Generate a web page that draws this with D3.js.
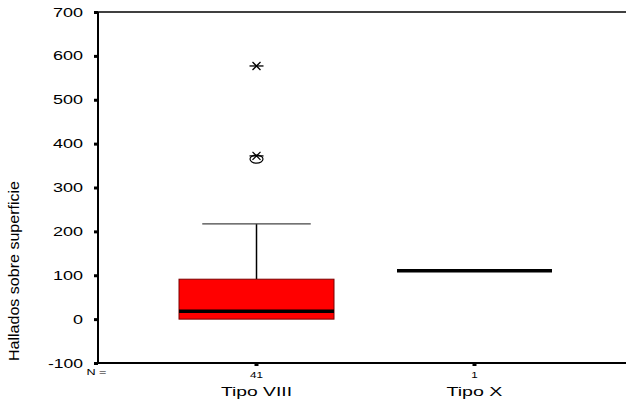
<!DOCTYPE html>
<html><head><meta charset="utf-8">
<script src="https://cdn.jsdelivr.net/npm/d3@7"></script>
<style>
html,body{margin:0;padding:0;background:#fff;}
text{font-family:"Liberation Sans",Arial,sans-serif;fill:#000;}
</style></head>
<body><svg id="c" width="626" height="407"></svg>
<script>
const categories = ["Tipo VIII", "Tipo X"];
const counts = [41, 1];
const whiskerLow = [0, 110];
const q1 = [0, 110];
const medians = [18, 110];
const q3 = [91, 110];
const whiskerHigh = [217, 110];
const outlierCats = ["Tipo VIII"];
const outlierValues = [367];
const extremeCats = ["Tipo VIII", "Tipo VIII"];
const extremeValues = [577, 372];
const yTicks = [-100, 0, 100, 200, 300, 400, 500, 600, 700];
const yTitle = "Hallados sobre superficie";

(function () {
const svg = d3.select("#c");
const mLeft = 98, mRight = 633, mTop = 12, mBottom = 363;
const y = d3.scaleLinear().domain([-100, 700]).range([mBottom, mTop]);
const x = d3.scaleBand().domain(categories).range([mLeft, mRight]).paddingInner(0.289).paddingOuter(0.3716);
const bw = x.bandwidth();
const cx = c => x(c) + bw / 2;
const fmt = d => String(d);
const labelLen = s => s.replace(/-/g, "").length * 10 + (s.includes("-") ? 5 : 0);

// top frame line
svg.append("line").attr("x1", mLeft).attr("x2", 626).attr("y1", mTop).attr("y2", mTop)
  .attr("stroke", "#000").attr("stroke-width", 1.5);

// y axis
const ya = svg.append("g").attr("transform", `translate(${mLeft},0)`)
  .call(d3.axisLeft(y).tickValues(yTicks).tickSize(4).tickPadding(11).tickFormat(fmt));
ya.select(".domain").remove();
ya.selectAll(".tick line").attr("stroke", "#000").attr("stroke-width", 3);
ya.selectAll(".tick text").style("font-size", "12.5px")
  .attr("textLength", d => labelLen(fmt(d))).attr("lengthAdjust", "spacingAndGlyphs");
svg.append("line").attr("x1", mLeft).attr("x2", mLeft).attr("y1", mTop).attr("y2", mBottom + 1)
  .attr("stroke", "#000").attr("stroke-width", 2);

// x axis
const xa = svg.append("g").attr("transform", `translate(0,${mBottom})`)
  .call(d3.axisBottom(x).tickSize(3).tickFormat(""));
xa.select(".domain").remove();
xa.selectAll(".tick line").attr("stroke", "#000").attr("stroke-width", 4);
svg.append("line").attr("x1", mLeft - 1).attr("x2", 626).attr("y1", mBottom).attr("y2", mBottom)
  .attr("stroke", "#000").attr("stroke-width", 2);

// N labels
svg.append("text").attr("x", 96.5).attr("y", 375).attr("text-anchor", "middle")
  .style("font-size", "8.5px").attr("textLength", 20).attr("lengthAdjust", "spacingAndGlyphs").text("N =");
const catLen = [71, 56];
categories.forEach((c, i) => {
  svg.append("text").attr("x", cx(c)).attr("y", 378).attr("text-anchor", "middle")
    .style("font-size", "8.5px").attr("textLength", String(counts[i]).length * 6.5)
    .attr("lengthAdjust", "spacingAndGlyphs").text(counts[i]);
  svg.append("text").attr("x", cx(c)).attr("y", 396).attr("text-anchor", "middle")
    .style("font-size", "12.5px").attr("textLength", catLen[i])
    .attr("lengthAdjust", "spacingAndGlyphs").text(c);
});

// y title
svg.append("text").attr("transform", "translate(19,271) rotate(-90)")
  .attr("text-anchor", "middle").style("font-size", "15px")
  .attr("textLength", 180).attr("lengthAdjust", "spacingAndGlyphs").text(yTitle);

// boxes
categories.forEach((c, i) => {
  const g = svg.append("g");
  const c0 = cx(c);
  if (whiskerHigh[i] > q3[i]) {
    g.append("line").attr("x1", c0).attr("x2", c0).attr("y1", y(q3[i])).attr("y2", y(whiskerHigh[i]))
      .attr("stroke", "#000").attr("stroke-width", 1.5);
    g.append("line").attr("x1", c0 - bw * 0.35).attr("x2", c0 + bw * 0.35)
      .attr("y1", y(whiskerHigh[i])).attr("y2", y(whiskerHigh[i]))
      .attr("stroke", "#444").attr("stroke-width", 1.2);
  }
  if (whiskerLow[i] < q1[i]) {
    g.append("line").attr("x1", c0).attr("x2", c0).attr("y1", y(q1[i])).attr("y2", y(whiskerLow[i]))
      .attr("stroke", "#000").attr("stroke-width", 1.5);
    g.append("line").attr("x1", c0 - bw * 0.35).attr("x2", c0 + bw * 0.35)
      .attr("y1", y(whiskerLow[i])).attr("y2", y(whiskerLow[i]))
      .attr("stroke", "#444").attr("stroke-width", 1.2);
  }
  if (q3[i] > q1[i]) {
    g.append("rect").attr("x", x(c)).attr("width", bw).attr("y", y(q3[i]))
      .attr("height", y(q1[i]) - y(q3[i]))
      .attr("fill", "#ff0000").attr("stroke", "#7a0000").attr("stroke-width", 1);
  }
  g.append("line").attr("x1", x(c)).attr("x2", x(c) + bw).attr("y1", y(medians[i])).attr("y2", y(medians[i]))
    .attr("stroke", "#000").attr("stroke-width", 3.5);
});

// outliers (circles)
outlierCats.forEach((c, i) => {
  svg.append("ellipse").attr("cx", cx(c)).attr("cy", y(outlierValues[i]) + 1).attr("rx", 6.5).attr("ry", 4)
    .attr("fill", "none").attr("stroke", "#000").attr("stroke-width", 1.2);
});
// extremes (stars)
extremeCats.forEach((c, i) => {
  const c0 = cx(c), yy = y(extremeValues[i]);
  const g = svg.append("g").attr("stroke", "#000").attr("stroke-width", 1.3);
  g.append("line").attr("x1", c0 - 7).attr("x2", c0 + 7).attr("y1", yy).attr("y2", yy);
  g.append("line").attr("x1", c0 - 4).attr("x2", c0 + 4).attr("y1", yy - 4).attr("y2", yy + 4);
  g.append("line").attr("x1", c0 - 4).attr("x2", c0 + 4).attr("y1", yy + 4).attr("y2", yy - 4);
});
})();
</script></body></html>
